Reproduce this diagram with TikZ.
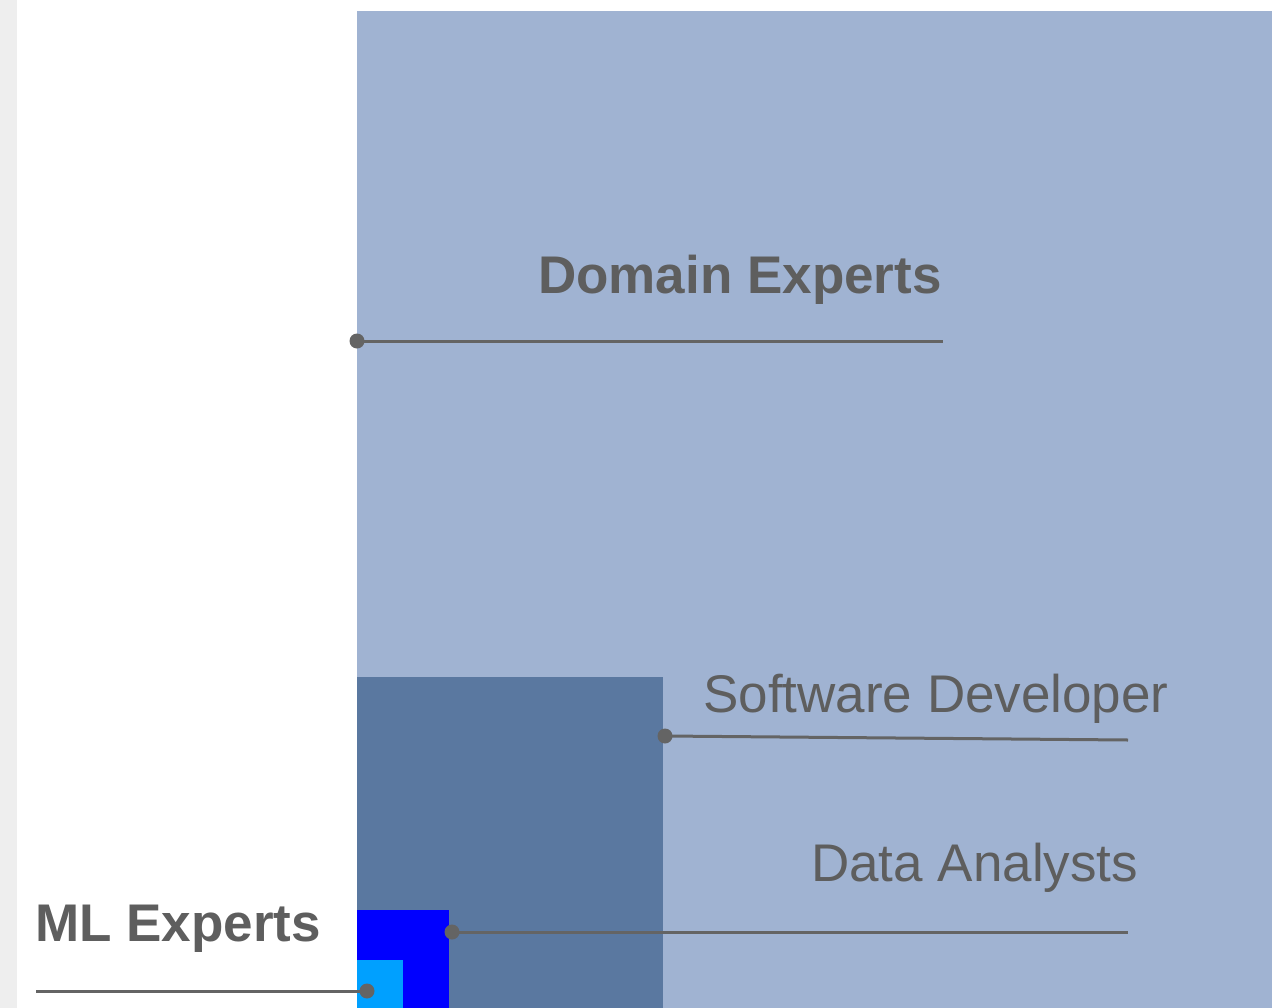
\documentclass[tikz,border=0pt]{standalone}
\usepackage{fontspec}
\setmainfont{Liberation Sans}
\usetikzlibrary{positioning}
\definecolor{stripgray}{HTML}{EEEEEE}
\definecolor{domaincol}{HTML}{A0B3D2}
\definecolor{devcol}{HTML}{5A78A0}
\definecolor{analystcol}{HTML}{0000FF}
\definecolor{mlcol}{HTML}{00A0FF}
\definecolor{labelgray}{HTML}{5E5E5E}
\definecolor{linegray}{HTML}{646464}

\begin{document}
\begin{tikzpicture}[x=1bp,y=-1bp,
			lbl/.style={anchor=base west,inner sep=0pt,text=labelgray,font=\fontsize{53bp}{60bp}\selectfont},
			lead/.style={draw=linegray,line width=3bp},
			pin/.style={fill=linegray}]
			\useasboundingbox (0,0) rectangle (1281,1008);
			% background and nested areas
			\fill[white] (0,0) rectangle (1281,1008);
			\fill[stripgray] (0,0) rectangle (17,1008);
			\fill[domaincol] (357,11) rectangle (1272,1008);
			\fill[devcol] (357,677) rectangle (663,1008);
			\fill[analystcol] (357,910) rectangle (449,1008);
			\fill[mlcol] (357,960) rectangle (403,1008);
			% labels
			\node (domain) [lbl,font=\fontsize{53bp}{60bp}\selectfont\bfseries] at (538,293) {Domain Experts};
			\node (software) [lbl] at (703,712) {Software Developer};
			\node (analysts) [lbl] at (811,881) {Data Analysts};
			\node (mlexp) [lbl,font=\fontsize{53bp}{60bp}\selectfont\bfseries] at (35,941) {ML Experts};
			% leader lines
			\coordinate (domainpin) at (357,341);
			\coordinate (domainend) at (943,341);
			\coordinate (softwarepin) at (665,736);
			\coordinate (softwareend) at (1128,740);
			\coordinate (analystspin) at (452,932);
			\coordinate (analystsend) at (1128,932);
			\coordinate (mlpin) at (367,991);
			\coordinate (mlend) at (36,991);
			\draw[lead] (domainpin) -- (domainend);
			\draw[lead] (softwarepin) -- (softwareend);
			\draw[lead] (analystspin) -- (analystsend);
			\draw[lead] (mlpin) -- (mlend);
			\foreach \p in {domainpin,softwarepin,analystspin,mlpin}
				\fill[pin] (\p) circle (7.5bp);
		\end{tikzpicture}
\end{document}
